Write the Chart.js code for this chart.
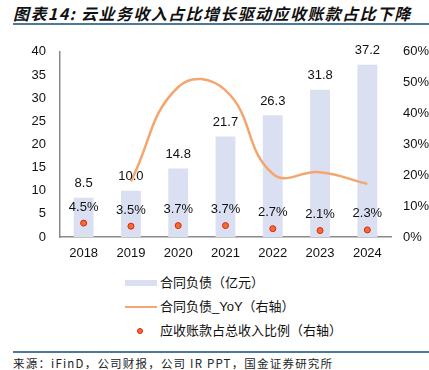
<!DOCTYPE html>
<html>
<head>
<meta charset="utf-8">
<script src="https://cdn.jsdelivr.net/npm/chart.js@4.4.1/dist/chart.umd.min.js"></script>
<style>
    body { margin: 0; width: 429px; height: 370px; background: #fff; position: relative; overflow: hidden; }
    #titulo { position: absolute; left: 13px; top: 1px; font: italic bold 16px "Noto Sans CJK SC", sans-serif; letter-spacing: 1.4px; color: #111; white-space: nowrap; }
    .linea { position: absolute; left: 13px; right: 0; background: #4d7898; }
    #graficaContainer { position: absolute; left: 0; top: 30px; width: 429px; height: 240px; }
    .leyenda { position: absolute; left: 160px; font: 13px "Liberation Sans", "Noto Sans CJK SC", sans-serif; color: #111; line-height: 16px; white-space: nowrap; }
    .simbolo { position: absolute; }
    #fuente { position: absolute; left: 13px; top: 355px; font: 11.5px "Noto Sans CJK SC", sans-serif; letter-spacing: 1.2px; color: #222; white-space: nowrap; }
</style>
</head>
<body>
<div id="titulo">图表14: 云业务收入占比增长驱动应收账款占比下降</div>
<div class="linea" style="top:23px;height:2px"></div>
<div id="graficaContainer"><canvas id="grafica" width="429" height="240"></canvas></div>

<div class="simbolo" style="left:125px;top:280px;width:32px;height:6px;background:#dae0f2"></div>
<div class="leyenda" style="top:275px">合同负债（亿元）</div>
<div class="simbolo" style="left:125px;top:306px;width:32px;height:2px;background:#f4a66e"></div>
<div class="leyenda" style="top:299px">合同负债_YoY（右轴）</div>
<div class="simbolo" style="left:137px;top:328px;width:4px;height:4px;border-radius:50%;background:#f07028;border:1px solid #e02020"></div>
<div class="leyenda" style="top:323px">应收账款占总收入比例（右轴）</div>

<div class="linea" style="top:351px;height:1.5px"></div>
<div id="fuente">来源：iFinD，公司财报，公司 IR PPT，国金证券研究所</div>

<script>
// Datos
const anios = ['2018', '2019', '2020', '2021', '2022', '2023', '2024'];
const contratoPasivo = [8.5, 10.0, 14.8, 21.7, 26.3, 31.8, 37.2];      // 亿元
const contratoYoY = [null, 18.0, 48.6, 47.5, 20.5, 21.0, 17.2];        // %
const cuentasRatio = [4.5, 3.5, 3.7, 3.7, 2.7, 2.1, 2.3];             // %
const ticksIzq = [0, 5, 10, 15, 20, 25, 30, 35, 40];
const ticksDer = [0, 10, 20, 30, 40, 50, 60];

const fuenteTicks = { family: 'Liberation Sans', size: 13 };

// Plugin para las etiquetas de valores
const etiquetas = {
    id: 'etiquetas',
    afterDatasetsDraw(chart) {
        const ctx = chart.ctx;
        ctx.save();
        ctx.font = '13px "Liberation Sans"';
        ctx.fillStyle = '#111';
        ctx.textAlign = 'center';
        ctx.textBaseline = 'middle';
        chart.getDatasetMeta(0).data.forEach((bar, i) => {
            ctx.fillText(contratoPasivo[i].toFixed(1), bar.x, bar.y - 14);
        });
        chart.getDatasetMeta(2).data.forEach((p, i) => {
            ctx.fillText(cuentasRatio[i].toFixed(1) + '%', p.x, p.y - 16);
        });
        ctx.restore();
    }
};

function generarGrafica() {
    const ctx = document.getElementById('grafica').getContext('2d');
    new Chart(ctx, {
        type: 'bar',
        data: {
            labels: anios,
            datasets: [
                {
                    label: '合同负债（亿元）',
                    data: contratoPasivo,
                    backgroundColor: '#dae0f2',
                    barPercentage: 0.42,
                    categoryPercentage: 1,
                    yAxisID: 'y',
                    order: 3,
                },
                {
                    type: 'line',
                    label: '合同负债_YoY（右轴）',
                    data: contratoYoY,
                    borderColor: '#f4a66e',
                    borderWidth: 2.5,
                    pointRadius: 0,
                    tension: 0.45,
                    yAxisID: 'y1',
                    order: 2,
                },
                {
                    type: 'line',
                    label: '应收账款占总收入比例（右轴）',
                    data: cuentasRatio,
                    showLine: false,
                    pointRadius: 3,
                    pointBackgroundColor: '#f07028',
                    pointBorderColor: '#e02020',
                    pointBorderWidth: 1,
                    yAxisID: 'y1',
                    order: 1,
                },
            ],
        },
        options: {
            responsive: false,
            animation: false,
            layout: { padding: { top: 12, left: 0, right: 0, bottom: 0 } },
            plugins: {
                legend: { display: false },
                tooltip: { enabled: false },
            },
            scales: {
                x: {
                    grid: { display: false, drawTicks: false },
                    border: { display: true, color: '#8a8a8a', width: 1.5 },
                    ticks: { font: fuenteTicks, color: '#111', padding: 9, maxRotation: 0 },
                    afterFit: s => { s.height = 33; },
                },
                y: {
                    position: 'left',
                    min: 0,
                    max: 40,
                    afterBuildTicks: s => { s.ticks = ticksIzq.map(v => ({ value: v })); },
                    grid: { display: false, drawTicks: false },
                    border: { display: true, color: '#8a8a8a', width: 1.5 },
                    ticks: { font: fuenteTicks, color: '#111', padding: 14 },
                    afterFit: s => { s.width = 60; },
                },
                y1: {
                    position: 'right',
                    min: 0,
                    max: 60,
                    afterBuildTicks: s => { s.ticks = ticksDer.map(v => ({ value: v })); },
                    grid: { display: false, drawTicks: false },
                    border: { display: false },
                    ticks: { font: fuenteTicks, color: '#111', padding: 12, callback: v => v + '%' },
                    afterFit: s => { s.width = 38; },
                },
            },
        },
        plugins: [etiquetas],
    });
}

document.addEventListener('DOMContentLoaded', generarGrafica);
</script>
</body>
</html>
